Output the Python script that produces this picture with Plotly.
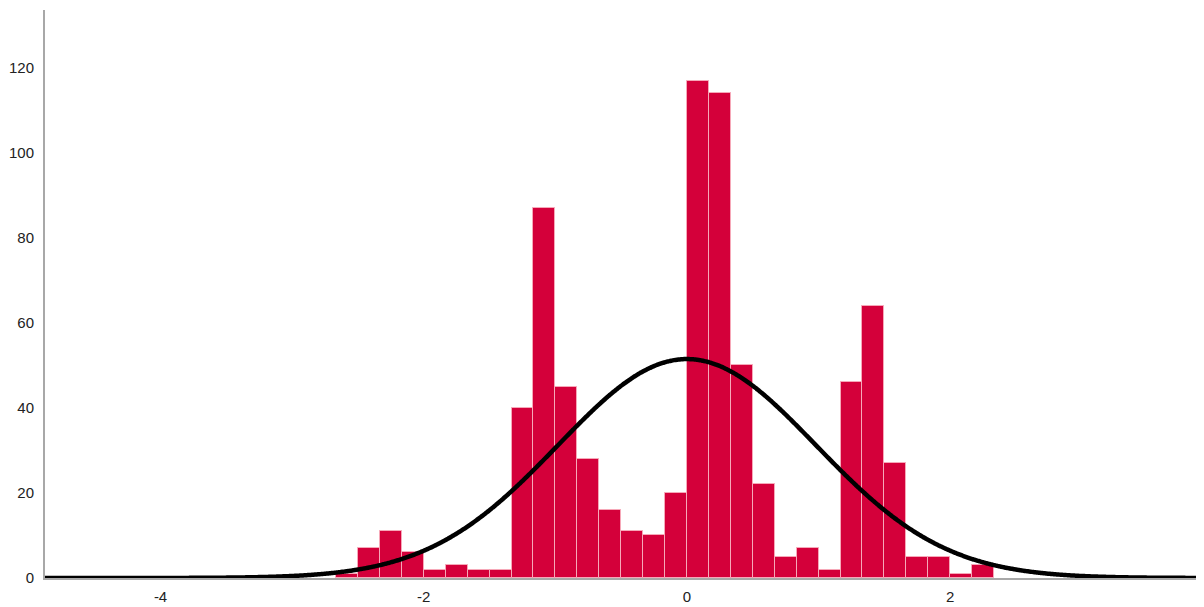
import numpy as np
import plotly.graph_objects as go

# Histogram data (bin width 1/6, first bin starts at -16/6)
bin_width = 1.0 / 6.0
first_edge = -16.0 / 6.0
counts = [1, 7, 11, 6, 2, 3, 2, 2, 40, 87, 45, 28, 16, 11, 10, 20,
          117, 114, 50, 22, 5, 7, 2, 46, 64, 27, 5, 5, 1, 3]

# Fitted normal curve parameters
curve_mean = 0.0
curve_sd = 0.98

x_ticks = [-4, -2, 0, 2]
y_ticks = [0, 20, 40, 60, 80, 100, 120]

x_range = [-4.878, 3.883]
y_range = [0, 133.6]

n_total = sum(counts)
centers = [first_edge + bin_width * (i + 0.5) for i in range(len(counts))]

xs = np.linspace(x_range[0], x_range[1], 800)
ys = n_total * bin_width / (curve_sd * np.sqrt(2 * np.pi)) * np.exp(-0.5 * ((xs - curve_mean) / curve_sd) ** 2)

fig = go.Figure()
fig.add_trace(go.Bar(
    x=centers, y=counts, width=bin_width,
    marker=dict(color="#D4003A", line=dict(color="#F6A8B8", width=1)),
    hoverinfo="x+y",
))
fig.add_trace(go.Scatter(
    x=xs, y=ys, mode="lines",
    line=dict(color="black", width=4.5, shape="spline"),
    hoverinfo="skip",
))

# The page body adds an 8px offset; figure size and margins compensate for it.
fig.update_layout(
    template="none",
    width=1196, height=599,
    margin=dict(l=37, r=6, t=2, b=29, autoexpand=False),
    paper_bgcolor="white", plot_bgcolor="white",
    showlegend=False, bargap=0,
    font=dict(family="Liberation Sans, Arial, sans-serif", size=15, color="#222222"),
)
fig.update_xaxes(
    range=x_range, tickvals=x_ticks, ticktext=[str(v) for v in x_ticks],
    showgrid=False, zeroline=False, showline=True, linecolor="#A8A8A8", linewidth=2,
    ticks="", ticklabelstandoff=4, automargin=False,
)
fig.update_yaxes(
    range=y_range, tickvals=y_ticks, ticktext=[str(v) for v in y_ticks],
    showgrid=False, zeroline=False, showline=True, linecolor="#A8A8A8", linewidth=2,
    ticks="", ticklabelstandoff=6, automargin=False,
)

fig.write_html("out.html")
